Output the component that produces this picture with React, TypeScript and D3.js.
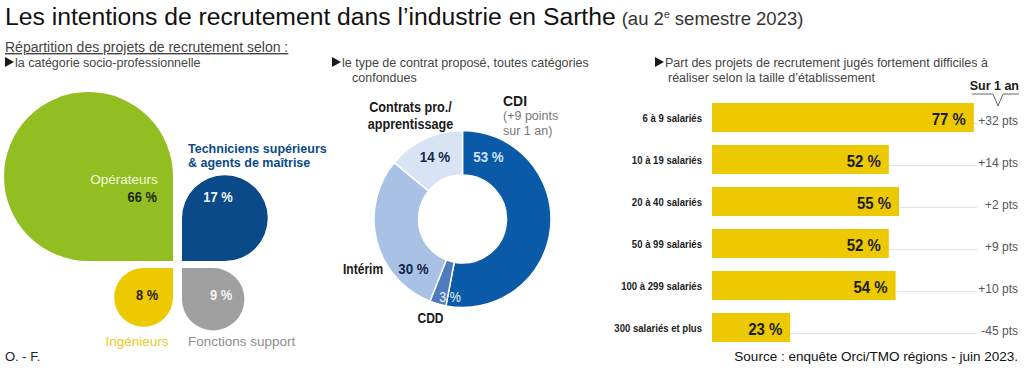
import React from "react";
import * as d3 from "d3";

const cspLabels = ["Opérateurs", "Techniciens supérieurs & agents de maîtrise", "Ingénieurs", "Fonctions support"];
const cspValues = [66, 17, 8, 9];

const contractLabels = ["CDI", "CDD", "Intérim", "Contrats pro./apprentissage"];
const contractValues = [53, 3, 30, 14];

const sizeLabels = ["6 à 9 salariés", "10 à 19 salariés", "20 à 40 salariés", "50 à 99 salariés", "100 à 299 salariés", "300 salariés et plus"];
const sizeValues = [77, 52, 55, 52, 54, 23];
const sizeChanges = ["+32 pts", "+14 pts", "+2 pts", "+9 pts", "+10 pts", "-45 pts"];

const FONT = "'Liberation Sans', Arial, Helvetica, sans-serif";

const cspColors = ["#93be22", "#0b4a88", "#ecc900", "#a0a0a0"];
const contractColors = ["#0b5aa8", "#4d7cbd", "#a8c1e5", "#d8e4f4"];
const barColor = "#ecc900";

// condensed text: horizontal squeeze of a regular font
function CText(props: { x: number; y: number; sx?: number; size: number; bold?: boolean; fill: string; anchor?: string; children: React.ReactNode }) {
  const { x, y, sx = 0.86, size, bold = true, fill, anchor = "start", children } = props;
  return (
    <text transform={`translate(${x},${y}) scale(${sx},1)`} textAnchor={anchor} fontSize={size} fontWeight={bold ? "bold" : "normal"} fill={fill} fontFamily={FONT}>
      {children}
    </text>
  );
}

// bullet triangle then text
function Bullet(props: { x: number; y: number; text: string }) {
  const { x, y, text } = props;
  return (
    <g>
      <path d={`M${x},${y - 10} L${x + 9},${y - 5} L${x},${y} Z`} fill="#1a1a1a" />
      <text x={x + 10} y={y} fontFamily={FONT} fontSize={12.5} fill="#444">{text}</text>
    </g>
  );
}

// rounded box, one sharp corner
function dropPath(x0: number, y0: number, x1: number, y1: number, sharp: string) {
  const r = (x1 - x0) / 2;
  const rTL = sharp === "tl" ? 0 : r;
  const rTR = sharp === "tr" ? 0 : r;
  const rBR = sharp === "br" ? 0 : r;
  const rBL = sharp === "bl" ? 0 : r;
  const p = d3.path();
  p.moveTo(x0 + rTL, y0);
  p.lineTo(x1 - rTR, y0);
  if (rTR > 0) p.arcTo(x1, y0, x1, y0 + rTR, rTR); else p.lineTo(x1, y0);
  p.lineTo(x1, y1 - rBR);
  if (rBR > 0) p.arcTo(x1, y1, x1 - rBR, y1, rBR); else p.lineTo(x1, y1);
  p.lineTo(x0 + rBL, y1);
  if (rBL > 0) p.arcTo(x0, y1, x0, y1 - rBL, rBL); else p.lineTo(x0, y1);
  p.lineTo(x0, y0 + rTL);
  if (rTL > 0) p.arcTo(x0, y0, x0 + rTL, y0, rTL); else p.lineTo(x0, y0);
  p.closePath();
  return p.toString();
}

function Drops() {
  const side = d3.scaleSqrt().domain([0, 66]).range([0, 169]);
  const cx = 177.5, cy = 264.5, gx = 4.5, gy = 3.5;
  const sOp = side(cspValues[0]);
  const sTe = side(cspValues[1]);
  const sIn = side(cspValues[2]);
  const sFo = side(cspValues[3]);
  const op = { x0: cx - gx - sOp, y0: cy - gy - sOp, x1: cx - gx, y1: cy - gy };
  const te = { x0: cx + gx, y0: cy - gy - sTe, x1: cx + gx + sTe, y1: cy - gy };
  const ing = { x0: cx - gx - sIn, y0: cy + gy, x1: cx - gx, y1: cy + gy + sIn };
  const fo = { x0: cx + gx, y0: cy + gy, x1: cx + gx + sFo, y1: cy + gy + sFo };
  return (
    <g fontFamily={FONT}>
      <path d={dropPath(op.x0, op.y0, op.x1, op.y1, "br")} fill={cspColors[0]} />
      <path d={dropPath(te.x0, te.y0, te.x1, te.y1, "bl")} fill={cspColors[1]} />
      <path d={dropPath(ing.x0, ing.y0, ing.x1, ing.y1, "tr")} fill={cspColors[2]} />
      <path d={dropPath(fo.x0, fo.y0, fo.x1, fo.y1, "tl")} fill={cspColors[3]} />
      <text x={124} y={183.5} textAnchor="middle" fontSize={13.5} fill="#f3f7df">{cspLabels[0]}</text>
      <CText x={157} y={202} anchor="end" size={15} fill="#1c2a0c">{cspValues[0]} %</CText>
      <text x={188} y={152.5} fontSize={12.5} fontWeight="bold" fill="#0b4a88">Techniciens supérieurs</text>
      <text x={188} y={167} fontSize={12.5} fontWeight="bold" fill="#0b4a88">& agents de maîtrise</text>
      <CText x={218} y={202} anchor="middle" size={15} fill="#eef3fa">{cspValues[1]} %</CText>
      <CText x={147} y={300} anchor="middle" size={15} fill="#2a2410">{cspValues[2]} %</CText>
      <CText x={221} y={300} anchor="middle" size={15} fill="#f4f4f4">{cspValues[3]} %</CText>
      <text x={137} y={345.5} textAnchor="middle" fontSize={13.5} fill="#e8cc1a">{cspLabels[2]}</text>
      <text x={188} y={345.5} fontSize={13.5} fill="#8e8e8e">{cspLabels[3]}</text>
    </g>
  );
}

function Donut() {
  const cx = 462.5, cy = 219;
  const pie = d3.pie<number>().sort(null).startAngle(0).endAngle(2 * Math.PI);
  const arcs = pie(contractValues);
  const arc = d3.arc<d3.PieArcDatum<number>>().innerRadius(44).outerRadius(88.5);
  return (
    <g fontFamily={FONT}>
      <g transform={`translate(${cx},${cy})`}>
        {arcs.map((a, i) => (
          <path key={i} d={arc(a) || ""} fill={contractColors[i]} stroke="#fff" strokeWidth={1.5} />
        ))}
      </g>
      <CText x={503} y={106} size={15.5} sx={0.9} fill="#1a1a1a">{contractLabels[0]}</CText>
      <text x={503} y={120} fontSize={12.5} fill="#777">(+9 points</text>
      <text x={503} y={135} fontSize={12.5} fill="#777">sur 1 an)</text>
      <CText x={410.5} y={112} anchor="middle" size={14.5} sx={0.87} fill="#1a1a1a">Contrats pro./</CText>
      <CText x={410.5} y={129} anchor="middle" size={14.5} sx={0.87} fill="#1a1a1a">apprentissage</CText>
      <CText x={435} y={162} anchor="middle" size={15.5} fill="#13264a">{contractValues[3]} %</CText>
      <CText x={488.5} y={162} anchor="middle" size={15.5} fill="#cfe0f5">{contractValues[0]} %</CText>
      <CText x={343} y={274} size={14} fill="#1a1a1a">{contractLabels[2]}</CText>
      <CText x={413.5} y={274} anchor="middle" size={15.5} fill="#13264a">{contractValues[2]} %</CText>
      <CText x={450} y={302} anchor="middle" size={14.5} bold={false} fill="#eef4fb">{contractValues[1]} %</CText>
      <CText x={430.5} y={323} anchor="middle" size={14.5} sx={0.83} fill="#1a1a1a">{contractLabels[1]}</CText>
    </g>
  );
}

function Bars() {
  const x = d3.scaleLinear().domain([0, 100]).range([712, 1052]);
  const y = d3.scaleBand<string>().domain(sizeLabels).range([96.5, 348.5]).paddingInner(0.31).paddingOuter(0.155);
  const bw = y.bandwidth();
  return (
    <g fontFamily={FONT}>
      {sizeLabels.map((lab, i) => {
        const y0 = y(lab) as number;
        const mid = y0 + bw / 2;
        const xe = x(sizeValues[i]);
        return (
          <g key={lab}>
            <line x1={xe} x2={977} y1={mid + 6} y2={mid + 6} stroke="#dcdcdc" strokeWidth={0.8} />
            <rect x={x(0)} y={y0} width={xe - x(0)} height={bw} fill={barColor} />
            <CText x={702} y={mid + 4} anchor="end" size={11} sx={0.87} fill="#222">{lab}</CText>
            <CText x={xe - 8} y={mid + 7.5} anchor="end" size={17} sx={0.88} fill="#1a1a1a">{sizeValues[i]} %</CText>
            <text x={1018} y={mid + 7.5} textAnchor="end" fontSize={12} fill="#555">{sizeChanges[i]}</text>
          </g>
        );
      })}
      <text x={1019} y={90} textAnchor="end" fontSize={12.5} fontWeight="bold" fill="#1a1a1a">Sur 1 an</text>
      <polyline points="972,94 993,94 998,106 1003,94 1019,94" fill="none" stroke="#555" strokeWidth={0.9} />
    </g>
  );
}

export default function App() {
  return (
    <svg width={1024} height={375} style={{ position: "absolute", left: 0, top: 0, background: "#fff" }}>
      <rect width={1024} height={375} fill="#fff" />
      <text x={5} y={25} fontFamily={FONT} fontSize={24.7} fill="#111">
        Les intentions de recrutement dans l’industrie en Sarthe
        <tspan fontSize={18.5} fill="#333" dx={6}>(au 2</tspan>
        <tspan fontSize={10.5} fill="#333" dy={-7.5}>e</tspan>
        <tspan fontSize={18.5} fill="#333" dy={7.5}> semestre 2023)</tspan>
      </text>
      <text x={5} y={52} fontFamily={FONT} fontSize={14} fill="#444" textDecoration="underline">Répartition des projets de recrutement selon :</text>
      <Bullet x={5} y={67} text="la catégorie socio-professionnelle" />
      <Bullet x={332} y={67} text="le type de contrat proposé, toutes catégories" />
      <text x={352} y={82} fontFamily={FONT} fontSize={12.5} fill="#444">confondues</text>
      <Bullet x={655} y={67} text=" Part des projets de recrutement jugés fortement difficiles à" />
      <text x={668} y={82} fontFamily={FONT} fontSize={12.5} fill="#444">réaliser selon la taille d’établissement</text>
      <Drops />
      <Donut />
      <Bars />
      <text x={5} y={361} fontFamily={FONT} fontSize={13} fill="#222">O. - F.</text>
      <text x={1018} y={361} textAnchor="end" fontFamily={FONT} fontSize={13.5} fill="#111">Source : enquête Orci/TMO régions - juin 2023.</text>
    </svg>
  );
}
